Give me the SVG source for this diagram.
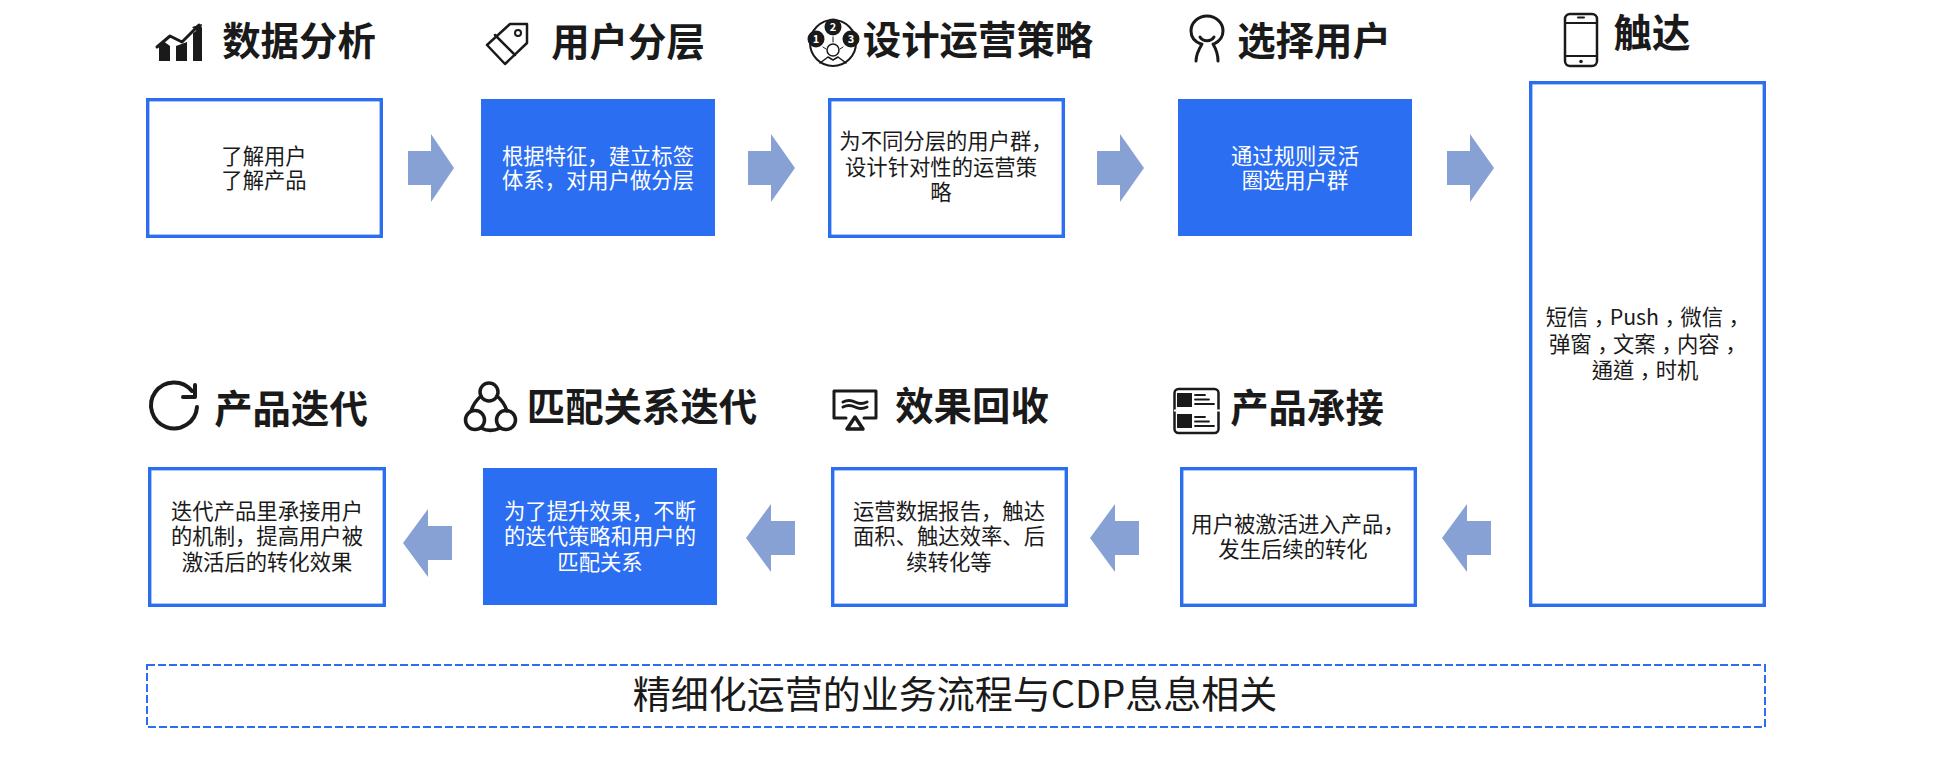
<svg xmlns="http://www.w3.org/2000/svg" width="1958" height="758" viewBox="0 0 1958 758">
<style>
.box{fill:#fff;stroke:#2b6ef2;stroke-width:3.400}
.solid{fill:#2b6ef2}
.arr{fill:#88a1d5}
text{font-family:"Noto Sans CJK SC","Liberation Sans",sans-serif;text-anchor:middle}
.t{font-size:38.4px;font-weight:700;fill:#1a1a1a}
.b{font-size:21.33px;fill:#1a1a1a}
.w{font-size:21.33px;fill:#fff}
.tc{font-family:"Noto Sans CJK TC","Liberation Sans",sans-serif}
.i{fill:none;stroke:#1a1a1a;stroke-width:3;stroke-linecap:round;stroke-linejoin:round}
.f{fill:#1a1a1a}
</style>
<rect width="1958" height="758" fill="#fff"/>
<g id="connectors">
<polygon class="arr" points="408,151 431,151 431,134 454,168 431,202 431,185 408,185"/>
<polygon class="arr" points="748,151 771,151 771,134 795,168 771,202 771,185 748,185"/>
<polygon class="arr" points="1097,151 1120,151 1120,134 1144,168 1120,202 1120,185 1097,185"/>
<polygon class="arr" points="1447,151 1470,151 1470,134 1494,168 1470,202 1470,185 1447,185"/>
<polygon class="arr" points="1491,521 1467,521 1467,504 1442,538 1467,572 1467,555 1491,555"/>
<polygon class="arr" points="1139,521 1115,521 1115,504 1090,538 1115,572 1115,555 1139,555"/>
<polygon class="arr" points="795,521 771,521 771,504 746,538 771,572 771,555 795,555"/>
<polygon class="arr" points="452,526 428,526 428,509 403,543 428,577 428,560 452,560"/>
</g>
<g id="n1">
<path class="f" d="M159 61V46l5.500-4 5.500 4v15zM176 61V46l11-4v19zM193 61V33l9-6v34z"/>
<path class="i" d="M157 47l13-11 12 6 17-17"/><path class="f" d="M192 27l10-3-2 10z"/>
<text class="t" x="299" y="55">数据分析</text>
<rect class="box" x="147.700" y="99.700" width="233.600" height="136.600"/>
<text class="b"><tspan x="264" y="163.500">了解用户</tspan><tspan x="264" y="187.500">了解产品</tspan></text>
</g>
<g id="n2">
<path class="i" d="M510 24h17v19l-22 21-18-19zM495 35l20 20" style="stroke-width:2.500"/><circle class="i" cx="518" cy="33" r="3" style="stroke-width:2"/>
<text class="t" x="628" y="56">用户分层</text>
<rect class="solid" x="481" y="99" width="234" height="137"/>
<text class="w"><tspan x="598" y="164">根据特征，建立标签</tspan><tspan x="598" y="188">体系，对用户做分层</tspan></text>
</g>
<g id="n3">
<circle class="i" cx="833" cy="43" r="23" style="stroke-width:2"/>
<circle class="f" cx="816" cy="39" r="8.500"/><circle class="f" cx="833" cy="27" r="8.500"/><circle class="f" cx="851" cy="39" r="8.500"/>
<text x="816" y="43" font-size="11" font-weight="700" fill="#fff">1</text><text x="833" y="31" font-size="11" font-weight="700" fill="#fff">2</text><text x="851" y="43" font-size="11" font-weight="700" fill="#fff">3</text>
<circle class="i" cx="833" cy="50" r="6" style="stroke-width:1.500"/><path class="i" d="M820 63l8-6 5 3 5-3 8 6" style="stroke-width:1.500"/><path class="i" d="M833 37v5M823 47l3 2M843 47l-3 2" style="stroke-width:1"/>
<text class="t" x="978" y="54">设计运营策略</text>
<rect class="box" x="829.700" y="99.700" width="233.600" height="136.600"/>
<text class="b"><tspan x="946" y="149">为不同分层的用户群，</tspan><tspan x="941" y="174.500">设计针对性的运营策</tspan><tspan x="941" y="200">略</tspan></text>
</g>
<g id="n4">
<path class="i" d="M1201 44C1193 41 1191 35 1191 31a16 15 0 0 1 32 0c0 5-3 10-9 13M1200 37c3 5 11 5 14 0M1196 61c0-7 3-12 6-17M1218 61c0-7-2-12-5-17"/>
<text class="t" x="1314" y="55">选择用户</text>
<rect class="solid" x="1178" y="99" width="234" height="137"/>
<text class="w"><tspan x="1295" y="163.500">通过规则灵活</tspan><tspan x="1295" y="187.500">圈选用户群</tspan></text>
</g>
<g id="n5">
<rect class="i" x="1565" y="14" width="32" height="52" rx="5" style="stroke-width:2.500"/><path class="i" d="M1565 23h32M1565 56h32M1578 17.500h6" style="stroke-width:2"/><circle class="f" cx="1581" cy="61.500" r="1.800"/>
<text class="t" x="1652" y="47">触达</text>
<rect class="box" x="1530.700" y="82.700" width="233.600" height="522.600"/>
<text class="b tc"><tspan x="1645" y="325">短信<tspan dy="6">，</tspan><tspan dy="-6">Push</tspan><tspan dy="6">，</tspan><tspan dy="-6">微信</tspan><tspan dy="6">，</tspan></tspan><tspan x="1645" y="352">弹窗<tspan dy="6">，</tspan><tspan dy="-6">文案</tspan><tspan dy="6">，</tspan><tspan dy="-6">内容</tspan><tspan dy="6">，</tspan></tspan><tspan x="1645" y="378">通道<tspan dy="6">，</tspan><tspan dy="-6">时机</tspan></tspan></text>
</g>
<g id="n6">
<rect class="i" x="1174.500" y="389" width="44" height="44" rx="4" style="stroke-width:2.500"/><path d="M1174 410.500h46" stroke="#fff" stroke-width="2"/>
<rect class="f" x="1177" y="393" width="15" height="14"/><rect class="f" x="1177" y="414" width="15" height="14"/>
<path class="i" d="M1195 395h10M1195 399.500h14M1195 404h19M1195 417h10M1195 421.500h14M1195 426h19" style="stroke-width:1.800"/>
<text class="t" x="1307" y="422">产品承接</text>
<rect class="box" x="1181.700" y="468.700" width="233.600" height="136.600"/>
<text class="b"><tspan x="1298" y="532">用户被激活进入产品，</tspan><tspan x="1293" y="557">发生后续的转化</tspan></text>
</g>
<g id="n7">
<path class="i" d="M846 418h-12v-27h42v27h-12M843 402c4-2 8-2 12 0s8 2 12 0M843 407c4-2 8-2 12 0s8 2 12 0"/><path class="i" d="M855 417l8 12h-16z" style="stroke-width:3.500"/>
<text class="t" x="972" y="420">效果回收</text>
<rect class="box" x="832.700" y="468.700" width="233.600" height="136.600"/>
<text class="b"><tspan x="949" y="519">运营数据报告，触达</tspan><tspan x="949" y="544">面积、触达效率、后</tspan><tspan x="949" y="570">续转化等</tspan></text>
</g>
<g id="n8">
<circle class="i" cx="489" cy="392" r="9" style="stroke-width:3.500"/><circle class="i" cx="475" cy="420" r="9.500" style="stroke-width:3.500"/><circle class="i" cx="506" cy="420" r="9.500" style="stroke-width:3.500"/>
<path class="i" d="M481 396q-7 6-10 15M497 396q7 6 10 15M481 428c6 3 13 3 19 0" style="stroke-width:3.500"/>
<text class="t" x="642" y="421">匹配关系迭代</text>
<rect class="solid" x="483" y="468" width="234" height="137"/>
<text class="w"><tspan x="600" y="519">为了提升效果，不断</tspan><tspan x="600" y="544">的迭代策略和用户的</tspan><tspan x="600" y="570">匹配关系</tspan></text>
</g>
<g id="n9">
<path class="i" d="M197 407a23 23 0 1 1-5-16" style="stroke-width:4"/><path class="i" d="M195 385v12h-12" style="stroke-width:4"/>
<text class="t" x="291" y="423">产品迭代</text>
<rect class="box" x="149.700" y="468.700" width="234.600" height="136.600"/>
<text class="b"><tspan x="267" y="519">迭代产品里承接用户</tspan><tspan x="267" y="544">的机制，提高用户被</tspan><tspan x="267" y="570">激活后的转化效果</tspan></text>
</g>
<g id="n10">
<rect x="147" y="665" width="1618" height="62" fill="none" stroke="#2b6ef2" stroke-width="2" stroke-dasharray="8 3"/>
<text x="955" y="708" font-size="38" fill="#1a1a1a">精细化运营的业务流程与CDP息息相关</text>
</g>
</svg>
